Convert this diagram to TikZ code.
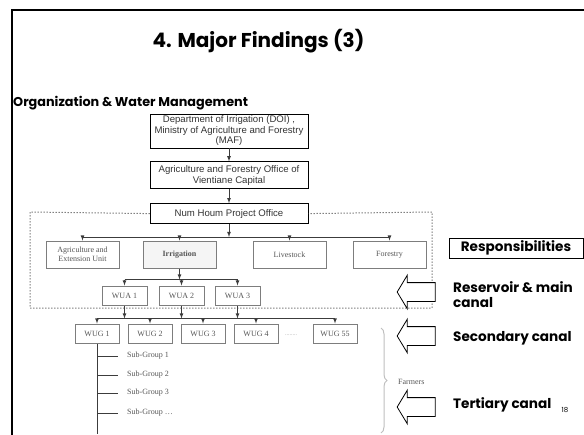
\documentclass[tikz,border=0pt]{standalone}
\usepackage{fontspec}
\setmainfont{Liberation Serif}
\newfontfamily\gothic{Poppins}
\newfontfamily\arialfont{Liberation Sans}
\usetikzlibrary{shapes.arrows,arrows,positioning,decorations.pathreplacing,calc}
\usepackage{xcolor}
\definecolor{boxgray}{RGB}{125,125,125}
\definecolor{txtgray}{RGB}{85,85,85}
\definecolor{linegray}{RGB}{60,60,60}

\begin{document}
\begin{tikzpicture}[x=1pt, y=-1pt,
    topbox/.style={rectangle, draw=black, line width=0.8pt, minimum width=158pt, inner sep=0pt, align=center, text=black!80, font=\arialfont\fontsize{9.6}{10.5}\selectfont},
    unitbox/.style={rectangle, draw=boxgray, line width=1pt, minimum width=73pt, minimum height=27pt, inner sep=0pt, align=center, text=txtgray, font=\fontsize{8}{9}\selectfont},
    wuabox/.style={unitbox, minimum width=45pt, minimum height=19pt},
    wugbox/.style={unitbox, minimum width=44pt, minimum height=19pt},
    subtxt/.style={anchor=west, inner sep=0pt, text=txtgray, font=\fontsize{8}{9}\selectfont},
    resptxt/.style={inner sep=0pt, align=left, font=\gothic\bfseries\fontsize{13.6}{15}\selectfont},
    blockarrow/.style={single arrow, draw=black, fill=white, shape border rotate=180, minimum height=38pt, inner xsep=0pt, inner ysep=9pt, single arrow head extend=7.5pt, single arrow tip angle=118, line width=0.8pt},
    link/.style={draw=linegray, line width=0.8pt},
    feed/.style={link, -latex}
]
\useasboundingbox (0,0) rectangle (584,434);

% Slide frame and headings
\draw[line width=2pt] (12,440) -- (12,10) -- (590,10);
\node (title) [anchor=base, inner sep=0pt, font=\gothic\bfseries\fontsize{20}{24}\selectfont] at (258.5,47) {4. Major Findings (3)};
\node (subtitle) [anchor=base west, inner sep=0pt, font=\gothic\bfseries\fontsize{12.8}{15}\selectfont] at (13,106) {Organization \& Water Management};

% Government line
\node (doi) [topbox, minimum height=34pt] at (229,131) {Department of Irrigation (DOI) ,\\ Ministry of Agriculture and Forestry\\ (MAF)};
\node (afo) [topbox, minimum height=27pt, below=13pt of doi] {Agriculture and Forestry Office of\\ Vientiane Capital};
\node (nhpo) [topbox, minimum height=20pt, below=14pt of afo] {Num Houm Project Office};

% Project units
\node (agext) [unitbox] at (82.5,254.5) {Agriculture and\\ Extension Unit};
\node (irrig) [unitbox, fill=gray!8, font=\bfseries\fontsize{8}{9}\selectfont, right=23pt of agext] {Irrigation};
\node (lives) [unitbox, right=36pt of irrig] {Livestock};
\node (forest) [unitbox, right=26pt of lives] {Forestry};

% Water users
\node (wua1) [wuabox] at (124.5,295.5) {WUA 1};
\node (wua2) [wuabox, right=11pt of wua1] {WUA 2};
\node (wua3) [wuabox, right=10pt of wua2] {WUA 3};

\node (wug1) [wugbox] at (97,333.5) {WUG 1};
\node (wug2) [wugbox, right=8pt of wug1] {WUG 2};
\node (wug3) [wugbox, right=8pt of wug2] {WUG 3};
\node (wug4) [wugbox, right=8pt of wug3] {WUG 4};
\node (wug55) [wugbox, right=34pt of wug4] {WUG 55};
\node (dots) [text=gray!70, inner sep=0pt, font=\fontsize{6}{7}\selectfont] at (291,335) {........};

\node (sub1) [subtxt] at (127,356) {Sub-Group 1};
\node (sub2) [subtxt] at (127,375) {Sub-Group 2};
\node (sub3) [subtxt] at (127,393) {Sub-Group 3};
\node (sub4) [subtxt] at (127,413) {Sub-Group \dots};
\node (farmers) [subtxt] at (398,382) {Farmers};

% Connections
\draw[feed] (doi) -- (afo);
\draw[feed] (afo) -- (nhpo);
\coordinate (bus1) at ($(nhpo.south)+(0,13)$);
\draw[feed] (nhpo.south) -- (bus1);
\draw[link] (agext.north |- bus1) -- (forest.north |- bus1);
\foreach \n in {agext,irrig,lives,forest}
    \draw[feed] (\n.north |- bus1) -- (\n.north);

\coordinate (bus2) at ($(irrig.south)+(0,11)$);
\draw[feed] (irrig.south) -- (bus2);
\draw[link] (wua1.north |- bus2) -- (wua3.north |- bus2);
\foreach \n in {wua1,wua2,wua3}
    \draw[feed] (\n.north |- bus2) -- (\n.north);

\coordinate (bus3) at ($(wua1.south)+(0,13)$);
\draw[link] (wug1.north |- bus3) -- (wug55.north |- bus3);
\foreach \n in {wua1,wua2,wua3}
    \draw[feed] (\n.south) -- (\n.south |- bus3);
\foreach \n in {wug1,wug2,wug3,wug4,wug55}
    \draw[feed] (\n.north |- bus3) -- (\n.north);

\coordinate (tail) at ($(wug1.south)+(0,90)$);
\draw[link] (wug1.south) -- (tail);
\foreach \s in {sub1,sub2,sub3,sub4}
    \draw[link] (wug1.south |- \s.west) -- ([xshift=-9pt]\s.west);

% Project boundary
\draw[dotted, line width=1pt, draw=linegray] (nhpo.west) -- (30,212) -- (30,308) -- (432,308) -- (432,212) -- (nhpo.east);

% Farmers brace
\draw[decorate, decoration={brace, amplitude=6pt}, draw=gray!50, line width=1pt] (381,328) -- (381,433);

% Responsibilities
\node (resp) [draw=black, line width=0.8pt, minimum width=134pt, minimum height=20pt, inner sep=0pt, font=\gothic\bfseries\fontsize{13.6}{15}\selectfont] at (516,248) {Responsibilities};
\node (arr1) [blockarrow] at (419,292) {};
\node (arr2) [blockarrow] at (419,336) {};
\node (arr3) [blockarrow] at (419,407) {};
\node (resmain) [resptxt, anchor=north west] at (453,281) {Reservoir \& main\\canal};
\node (second) [resptxt, anchor=base west] at (453,341) {Secondary canal};
\node (tertiary) [resptxt, anchor=base west] at (453,408) {Tertiary canal};
\node (pageno) [anchor=base, inner sep=0pt, font=\gothic\fontsize{7}{8}\selectfont] at (565,412) {18};

\end{tikzpicture}
\end{document}
